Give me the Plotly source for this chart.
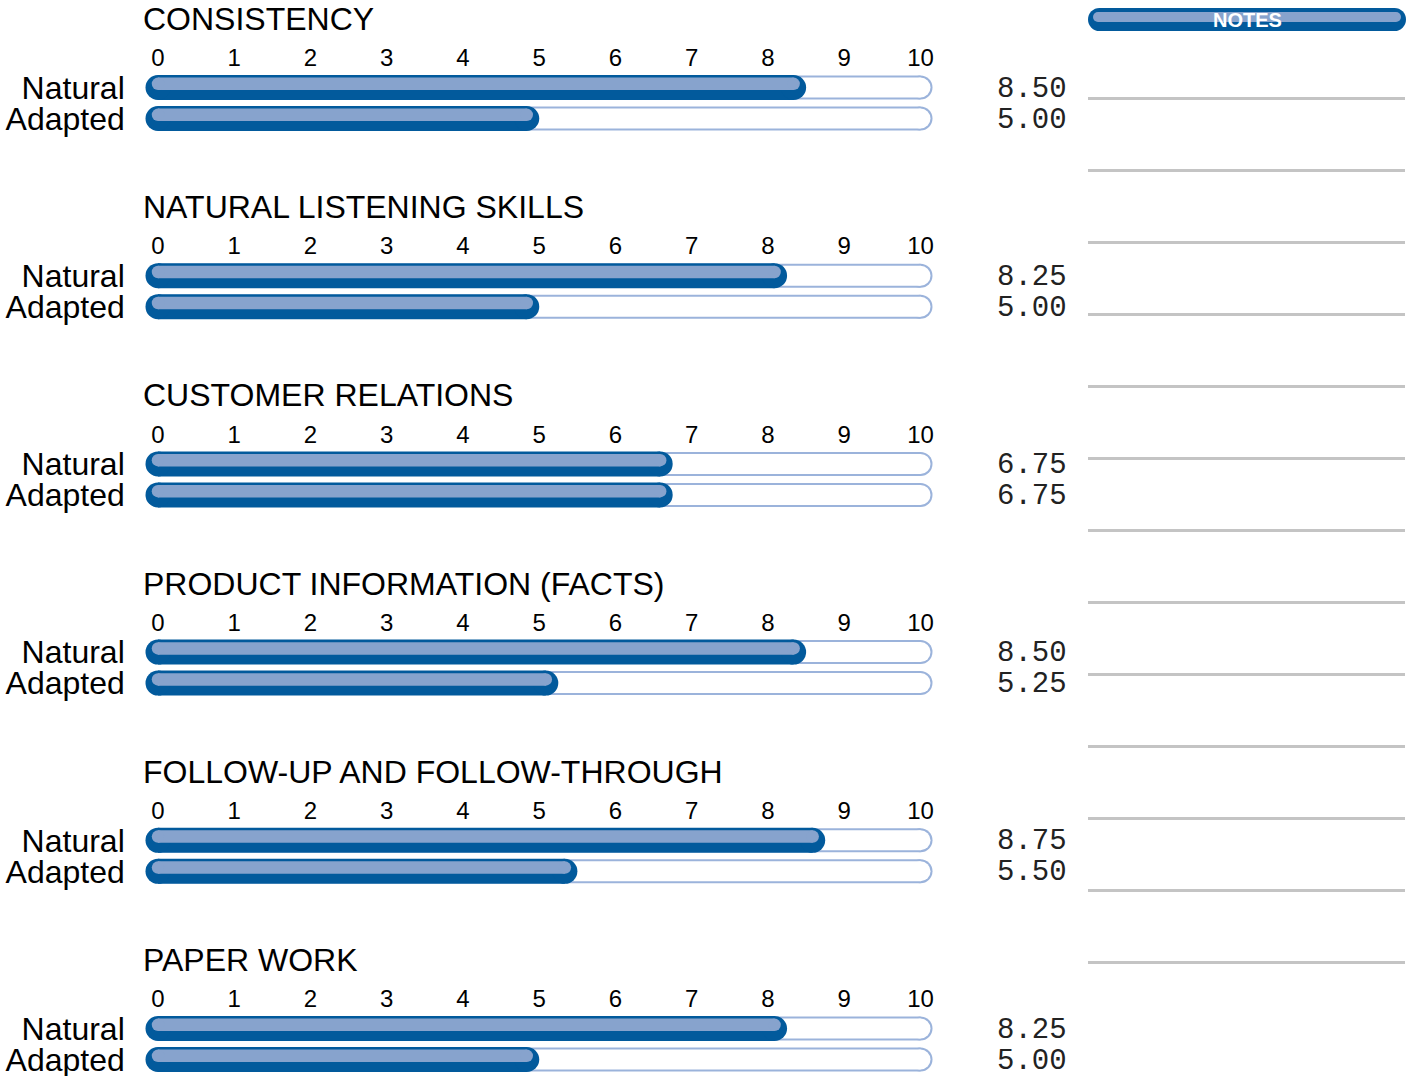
import plotly.graph_objects as go

# ---------------- data ----------------
categories = ["CONSISTENCY", "NATURAL LISTENING SKILLS", "CUSTOMER RELATIONS",
              "PRODUCT INFORMATION (FACTS)", "FOLLOW-UP AND FOLLOW-THROUGH", "PAPER WORK"]
natural = [8.50, 8.25, 6.75, 8.50, 8.75, 8.25]
adapted = [5.00, 5.00, 6.75, 5.25, 5.50, 5.00]
row_labels = ["Natural", "Adapted"]
tick_values = list(range(0, 11))
notes_label = "NOTES"
notes_lines = 13

# ---------------- style / layout constants ----------------
W, H = 1417, 1076
FONT = "Liberation Sans, Arial, Helvetica, sans-serif"
MONO = "Liberation Mono, DejaVu Sans Mono, monospace"
DARK = "#025a9c"
LIGHT = "#87a3cd"
TRACK = "#9bb3db"
GRAY = "#c4c4c4"

X0_PX, X10_PX = 158.0, 920.5
PPU = (X10_PX - X0_PX) / 10.0
XPAD = 0.2
SEC = 188.2          # vertical spacing between sections (px)
NAT_Y0 = 87.5        # centre of first "Natural" bar (px)
ROW = 31.0           # px per y unit (row spacing)
YMIN, YMAX = -0.45, 1.5
CAP = 12.5 / PPU     # bar end radius in data units
STRIPE_DY = 3.7 / ROW
TITLE_Y = 19.0
TITLE_X = 141
VALUE_X = 1069


def pill(xs0, xs1, ys, thickness, color, xa, ya):
    x, y = [], []
    for a, b, yy in zip(xs0, xs1, ys):
        x += [a, b, None]
        y += [yy, yy, None]
    return go.Scatter(x=x, y=y, mode="lines+markers", xaxis=xa, yaxis=ya,
                      line=dict(color=color, width=thickness),
                      marker=dict(color=color, size=thickness, line=dict(width=0)),
                      hoverinfo="skip", showlegend=False, cliponaxis=False)


fig = go.Figure()
layout = {}
annotations = []
ys = [1, 0]
xmax = tick_values[-1]

for i, cat in enumerate(categories):
    s = "" if i == 0 else str(i + 1)
    xa, ya = "x" + s, "y" + s
    off = i * SEC
    nat_c = NAT_Y0 + off
    top_px = nat_c - (YMAX - 1) * ROW
    bot_px = nat_c + (1 - YMIN) * ROW
    vals = [natural[i], adapted[i]]

    fig.add_trace(pill([0, 0], [xmax, xmax], ys, 24, TRACK, xa, ya))
    fig.add_trace(pill([0, 0], [xmax, xmax], ys, 20, "white", xa, ya))
    fig.add_trace(pill([0, 0], [v - CAP for v in vals], ys, 25, DARK, xa, ya))
    fig.add_trace(pill([0, 0], [v - CAP for v in vals], [y + STRIPE_DY for y in ys],
                       12.5, LIGHT, xa, ya))

    layout["xaxis" + s] = dict(
        domain=[(X0_PX - XPAD * PPU) / W, (X10_PX + XPAD * PPU) / W],
        range=[-XPAD, xmax + XPAD], side="top", anchor=ya, automargin=False,
        tickvals=tick_values, ticktext=[str(t) for t in tick_values],
        tickfont=dict(size=24, color="black", family=FONT),
        showgrid=False, zeroline=False, showline=False, ticks="",
        ticklabelstandoff=0, ticklabeloverflow="allow", fixedrange=True)
    layout["yaxis" + s] = dict(
        domain=[1 - bot_px / H, 1 - top_px / H], range=[YMIN, YMAX], anchor=xa,
        automargin=False, tickvals=ys, ticktext=row_labels,
        tickfont=dict(size=32, color="black", family=FONT),
        showgrid=False, zeroline=False, showline=False, ticks="",
        ticklabelstandoff=17, ticklabeloverflow="allow", fixedrange=True)

    annotations.append(dict(text=cat, x=TITLE_X / W, y=1 - (TITLE_Y + off) / H,
                            xref="paper", yref="paper", xanchor="left", yanchor="middle",
                            showarrow=False, font=dict(size=32, color="black", family=FONT)))
    for yy, v in zip(ys, vals):
        py = nat_c + (1 - yy) * ROW + 1.5
        annotations.append(dict(text=f"{v:.2f}", x=VALUE_X / W, y=1 - py / H,
                                xref="paper", yref="paper", xanchor="right", yanchor="middle",
                                showarrow=False, font=dict(size=29, color="#222", family=MONO)))

# ---------------- notes column (decoration) ----------------
shapes = []
NX0, NX1 = 1088, 1406
NY0, NY1 = 8, 31
SX0, SX1, SY0, SY1 = 1093, 1401, 12, 22


def px_pill(x0, x1, y0, y1, color):
    r = (y1 - y0) / 2
    out = []
    out.append(dict(type="circle", xref="paper", yref="paper",
                    x0=x0 / W, x1=(x0 + 2 * r) / W, y0=1 - y1 / H, y1=1 - y0 / H,
                    fillcolor=color, line=dict(width=0)))
    out.append(dict(type="circle", xref="paper", yref="paper",
                    x0=(x1 - 2 * r) / W, x1=x1 / W, y0=1 - y1 / H, y1=1 - y0 / H,
                    fillcolor=color, line=dict(width=0)))
    out.append(dict(type="rect", xref="paper", yref="paper",
                    x0=(x0 + r) / W, x1=(x1 - r) / W, y0=1 - y1 / H, y1=1 - y0 / H,
                    fillcolor=color, line=dict(width=0)))
    return out


shapes += px_pill(NX0, NX1, NY0, NY1, DARK)
shapes += px_pill(SX0, SX1, SY0, SY1, LIGHT)
for k in range(notes_lines):
    yl = 98.5 + 72 * k
    shapes.append(dict(type="line", xref="paper", yref="paper",
                       x0=NX0 / W, x1=(NX1 - 1) / W, y0=1 - yl / H, y1=1 - yl / H,
                       line=dict(color=GRAY, width=3)))

annotations.append(dict(text=f"<b>{notes_label}</b>", x=(NX0 + NX1) / 2 / W, y=1 - 20 / H,
                        xref="paper", yref="paper", xanchor="center", yanchor="middle",
                        showarrow=False, font=dict(size=20, color="white", family=FONT)))

fig.update_layout(
    width=W, height=H, margin=dict(l=0, r=0, t=0, b=0, autoexpand=False),
    paper_bgcolor="white", plot_bgcolor="white",
    font=dict(family=FONT, color="black"),
    showlegend=False, annotations=annotations, shapes=shapes, **layout)

fig.write_html("out.html", config={"displayModeBar": False},
               post_script="document.body.style.margin='0';document.body.style.overflow='hidden';")
